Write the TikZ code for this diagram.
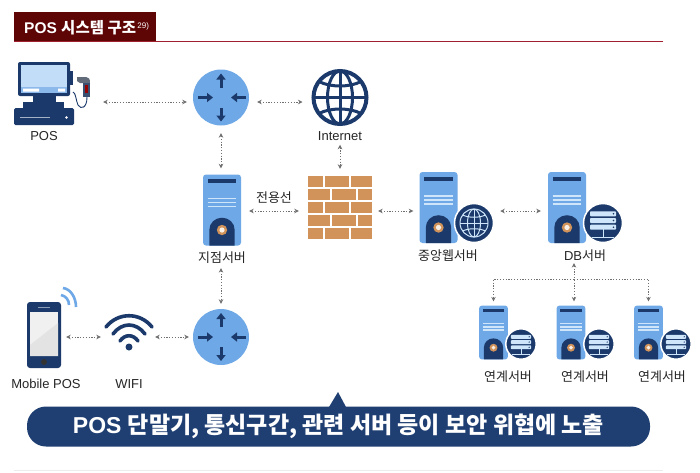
\documentclass[tikz,border=0pt]{standalone}
\usepackage{fontspec}
\setmainfont{Liberation Sans}
\newfontfamily\krf{Noto Sans CJK KR}
\newcommand{\K}[1]{{\krf #1}}
\usetikzlibrary{arrows.meta,calc}
\definecolor{navy}{HTML}{1B3A6B}
\definecolor{skyb}{HTML}{6FA8E6}
\definecolor{pale}{HTML}{CFE6FA}
\definecolor{brick}{HTML}{D2935A}
\definecolor{maroon}{HTML}{5E0505}
\definecolor{rulered}{HTML}{A02030}
\definecolor{linkc}{HTML}{707070}
\definecolor{banner}{HTML}{1F3F73}
\tikzset{
  link/.style={draw=linkc,line width=1pt,dash pattern=on 1.2pt off 1.6pt,{Stealth[length=4.5pt,width=4.5pt]}-{Stealth[length=4.5pt,width=4.5pt]}},
  linkend/.style={draw=linkc,line width=1pt,dash pattern=on 1.2pt off 1.6pt,-{Stealth[length=4.5pt,width=4.5pt]}},
  tag/.style={font=\fontsize{13}{15}\selectfont,text=black!85,inner sep=0pt},
  routerarrow/.style={draw=navy,line width=3pt,-{Triangle[length=6pt,width=9pt]}},
  srvbody/.style={fill=skyb,rounded corners=3pt,inner sep=0pt,minimum width=38pt,minimum height=71pt,transform shape},
  badgec/.style={circle,fill=navy,draw=white,line width=1.5pt,inner sep=0pt,minimum size=39pt,transform shape},
}
\newcommand{\routerIcon}[3]{%
  \node[circle,fill=skyb,inner sep=0pt,minimum size=56pt] (#1) at (#2,#3) {};
  \begin{scope}[shift={(#2,#3)}]
    \draw[routerarrow] (0,-10)--(0,-24);
    \draw[routerarrow] (0,10)--(0,24);
    \draw[routerarrow] (-23,0)--(-8,0);
    \draw[routerarrow] (25,0)--(10,0);
  \end{scope}}
\newcommand{\serverIcon}[4]{%
  \begin{scope}[shift={(#2,#3)},scale=#4]
    \node[srvbody] (#1) at (0,0) {};
    \fill[navy] (-14.3,-30.7) rectangle (14.3,-26.7);
    \draw[pale,line width=1.5pt] (-14.3,-11.7)--(14.3,-11.7) (-14.3,-7.5)--(14.3,-7.5) (-14.3,-3.3)--(14.3,-3.3);
    \fill[navy] (-12.7,35.5)--(-12.7,20) .. controls (-12.7,13) and (-7,7.7) .. (0,7.7) .. controls (7,7.7) and (12.7,13) .. (12.7,20) -- (12.7,35.5)--cycle;
    \fill[brick] (0,20) circle (5.2);
    \fill[white!85!brick] (0,20) circle (2.6);
  \end{scope}}
\newcommand{\dbBadge}[4]{%
  \begin{scope}[shift={(#2,#3)},scale=#4]
    \node[badgec] (#1) at (0,0) {};
    \draw[pale,line width=1pt] (0,5)--(0,14) (-11,14)--(11,14);
    \foreach \yy in {-11.7,-5,1.7}{
      \fill[pale,rounded corners=.8pt] (-13,\yy) rectangle (13,\yy+5);
      \fill[navy] (10.5,\yy+2.5) circle (.9);
    }
  \end{scope}}
\begin{document}
\begin{tikzpicture}[x=1pt,y=-1pt]
\useasboundingbox (0,0) rectangle (700,472);
\fill[white] (0,0) rectangle (700,472);
% header
\draw[rulered,line width=1.2pt] (14,41.5)--(663,41.5);
\node[fill=maroon,inner sep=0pt,minimum width=142pt,minimum height=29pt] (hdr) at (85,26.5) {};
\node[anchor=west,text=white,inner sep=0pt,font=\fontsize{15.5}{17}\selectfont\bfseries] (hdrt) at (24,27.5) {POS \K{시스템 구조}\raisebox{4.5pt}{\fontsize{8}{9}\selectfont\mdseries\,29)}};
% POS terminal
\fill[navy] (23,102) rectangle (64,108);
\fill[navy] (33,96) rectangle (56,103);
\node[fill=navy,rounded corners=1.5pt,inner sep=0pt,minimum width=60pt,minimum height=17pt] (posbase) at (44,116.5) {};
\draw[white!60!navy,line width=.6pt] (20,117.5)--(50,117.5);
\fill[white] (66.5,117.5) circle (1.3);
\draw[navy,line width=.9pt] (73,92) .. controls (76,93) and (76,101) .. (78,105) .. controls (81,110) and (87,108) .. (87,97);
\fill[navy] (69,71) rectangle (73,85);
\node[fill=navy,rounded corners=2pt,inner sep=0pt,minimum width=52pt,minimum height=34pt] (pos) at (44,79) {};
\fill[pale!85!skyb] (21,65) rectangle (67,87);
\fill[skyb!80!white] (21,87) rectangle (67,93);
\fill[white] (23,88.5) rectangle (39,91.5) (58,88.5) rectangle (65,91.5);
\fill[gray!70!navy] (77,77) -- (86,77) .. controls (89,77) and (90,79) .. (90,83) -- (80,83) -- (77,81) -- cycle;
\fill[navy!70!gray] (83,83) rectangle (90,97);
\fill[red!35!maroon] (85,85) rectangle (88,93);
\node[tag] (posl) at (44,136) {POS};
% routers
\routerIcon{r1}{221}{97.5}
\routerIcon{r2}{221}{337}
% globe
\node[circle,draw=navy,line width=4pt,inner sep=0pt,minimum size=53pt] (net) at (340,97.5) {};
\begin{scope}[shift={(340,97.5)}]
  \draw[navy,line width=3pt] (0,0) ellipse [x radius=12.5,y radius=26.5];
  \draw[navy,line width=3pt] (0,-26)--(0,26) (-26,0)--(26,0);
  \draw[navy,line width=3pt] (-21,-16) .. controls (-10,-10) and (10,-10) .. (21,-16);
  \draw[navy,line width=3pt] (-21,16) .. controls (-10,10) and (10,10) .. (21,16);
\end{scope}
\node[tag] (netl) at (340,136) {Internet};
% firewall
\node[inner sep=0pt,minimum width=64pt,minimum height=63pt] (fw) at (340,207.5) {};
\foreach \xa/\xb/\yy in {308/323/176,325/349/176,351/372/176,
                         308/330/189,332/356/189,358/372/189,
                         308/323/202,325/349/202,351/372/202,
                         308/330/215,332/356/215,358/372/215,
                         308/323/228,325/349/228,351/372/228}{
  \fill[brick] (\xa,\yy) rectangle (\xb,\yy+10.6);
}
% servers
\serverIcon{br}{222}{210}{1}
\node[tag] (brl) at (222,258) {\K{지점서버}};
\node[tag] (ded) at (274,198) {\K{전용선}};
\serverIcon{web}{438.5}{207.5}{1}
\node[badgec] (webb) at (474,223) {};
\begin{scope}[shift={(474,223)}]
  \draw[pale,line width=1pt] (0,0) circle (14);
  \draw[pale,line width=1pt] (0,0) ellipse [x radius=6.5,y radius=14];
  \draw[pale,line width=1pt] (0,-14)--(0,14) (-14,0)--(14,0);
  \draw[pale,line width=1pt] (-11.5,-8) .. controls (-5,-5) and (5,-5) .. (11.5,-8);
  \draw[pale,line width=1pt] (-11.5,8) .. controls (-5,5) and (5,5) .. (11.5,8);
\end{scope}
\node[tag] (webl) at (448,256) {\K{중앙웹서버}};
\serverIcon{db}{567}{207.5}{1}
\dbBadge{dbb}{603}{223}{1}
\node[tag,inner sep=0pt] (dbl) at (585,256) {DB\K{서버}};
\serverIcon{s1}{493.5}{332.5}{.76}
\dbBadge{b1}{521}{344}{.78}
\serverIcon{s2}{571}{332.5}{.76}
\dbBadge{b2}{599}{344}{.78}
\serverIcon{s3}{648.5}{332.5}{.76}
\dbBadge{b3}{676}{344}{.78}
\node[tag] (l1) at (508,377) {\K{연계서버}};
\node[tag] (l2) at (585,377) {\K{연계서버}};
\node[tag] (l3) at (662,377) {\K{연계서버}};
% mobile
\node[fill=navy,rounded corners=3pt,inner sep=0pt,minimum width=34pt,minimum height=66pt] (phone) at (44,335) {};
\fill[gray!12] (30,312) rectangle (58,356);
\fill[gray!22] (30,356) -- (30,345) -- (58,323) -- (58,356) -- cycle;
\draw[white!50!navy,line width=.8pt] (38,307)--(50,307);
\fill[black!80] (44,362) circle (3);
\draw[skyb,line width=2.6pt] (61,295) .. controls (66,296) and (69,300) .. (69,305);
\draw[skyb,line width=2.6pt] (63,288) .. controls (71,289) and (76,298) .. (76,307);
\node[tag] (phl) at (46,384) {Mobile POS};
% wifi
\node[inner sep=0pt,minimum width=48pt,minimum height=36pt] (wifi) at (129,331) {};
\draw[navy,line width=3.6pt,line cap=round] (106,327) .. controls (118,312) and (140,312) .. (152,327);
\draw[navy,line width=3.6pt,line cap=round] (113,334) .. controls (122,322) and (136,322) .. (145,334);
\draw[navy,line width=3.6pt,line cap=round] (120,341) .. controls (125,334) and (133,334) .. (138,341);
\fill[navy] (129,347) circle (3.5);
\node[tag] (wfl) at (129,384) {WIFI};
% connectors
\draw[link] ([shift={(33,23)}]pos.east) -- ([shift={(-6,4.5)}]r1.west);
\draw[link] ([shift={(8,4.5)}]r1.east) -- ([shift={(-9,4.5)}]net.west);
\draw[link] ([shift={(0,7.5)}]r1.south) -- ([shift={(-1,-6)}]br.north);
\draw[link] ([shift={(0,4)}]netl.south) -- ([shift={(0,-7)}]fw.north);
\draw[link] ([shift={(8,1)}]br.east) -- ([shift={(-9,3.5)}]fw.west);
\draw[link] ([shift={(6,3.5)}]fw.east) -- ([shift={(-6,3.5)}]web.west);
\draw[link] ([shift={(6,-12)}]webb.east) -- ([shift={(-7,3.5)}]db.west);
\draw[link] ([shift={(-1,4)}]brl.south) -- ([shift={(0,-5)}]r2.north);
\draw[link] ([shift={(5,2)}]phone.east) -- ([shift={(-4,6)}]wifi.west);
\draw[link] ([shift={(2,6)}]wifi.east) -- ([shift={(-4,0)}]r2.west);
\coordinate (tree) at (574,279);
\draw[link] ([shift={(-11,1)}]dbl.south) -- ([shift={(3,-4)}]s2.north);
\draw[linkend] (tree) -| ([shift={(0,-4)}]s1.north);
\draw[linkend] (tree) -| ([shift={(0,-4)}]s3.north);
% banner
\fill[banner] (329,407) -- (338,392) -- (346,407) -- cycle;
\node[fill=banner,rounded corners=19pt,inner sep=0pt,minimum width=623pt,minimum height=40pt,text=white,font=\fontsize{23}{26}\selectfont\bfseries] (msg) at (338.5,426.5) {POS \K{단말기, 통신구간, 관련 서버 등이 보안 위협에 노출}};
\draw[gray!15,line width=.8pt] (14,470)--(663,470);
\end{tikzpicture}
\end{document}
